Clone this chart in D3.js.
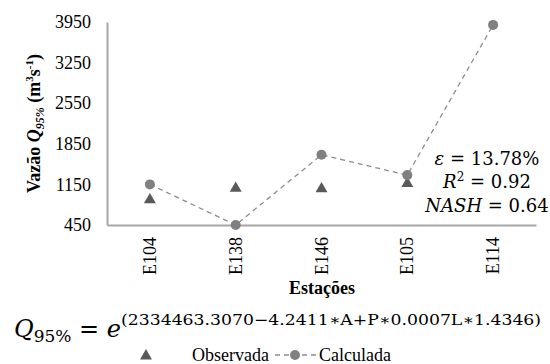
<!DOCTYPE html>
<html>
<head>
<meta charset="utf-8">
<script src="https://cdn.jsdelivr.net/npm/d3@7"></script>
<style>
  body { margin: 0; background: #fff; }
  svg { display: block; }
</style>
</head>
<body>
<svg id="viz"></svg>
<script>
// stations on the x axis
const stations = ["E104", "E138", "E146", "E105", "E114"];
// observed and calculated Q95% (m3/s)
const observada = [900, 1100, 1090, 1180, null];
const calculada = [1150, 450, 1660, 1310, 3900];
const yTicks = [450, 1150, 1850, 2550, 3250, 3950];

const W = 550, H = 364;
const plotL = 107, plotR = 536, plotT = 22, plotB = 225;
const serif = '"Liberation Serif", serif';
const math = '"DejaVu Serif", serif';

const svg = d3.select("#viz")
  .attr("width", W)
  .attr("height", H);

const x = d3.scaleBand().domain(stations).range([plotL, plotR]);
const y = d3.scaleLinear().domain([450, 3950]).range([plotB, plotT]);

// y axis
const gy = svg.append("g")
  .attr("transform", `translate(${plotL},0)`)
  .call(d3.axisLeft(y).tickValues(yTicks).tickFormat(d3.format("d")).tickSize(0).tickPadding(16));
gy.select(".domain").attr("stroke", "#a6a6a6").attr("stroke-width", 2);
gy.selectAll("text").style("font-family", serif).style("font-size", "18px").attr("fill", "#000");

// x axis
const gx = svg.append("g")
  .attr("transform", `translate(0,${plotB})`)
  .call(d3.axisBottom(x).tickSize(0).tickPadding(0));
gx.select(".domain").attr("stroke", "#a6a6a6").attr("stroke-width", 2);
gx.selectAll("text")
  .style("font-family", serif).style("font-size", "18px").attr("fill", "#000")
  .attr("text-anchor", "end")
  .attr("dy", null)
  .attr("transform", "translate(6,12) rotate(-90)");

// axis titles
svg.append("text")
  .attr("x", 322).attr("y", 294)
  .attr("text-anchor", "middle")
  .style("font-family", serif).style("font-size", "18px").style("font-weight", "bold")
  .text("Estações");

const yt = svg.append("text")
  .attr("transform", `translate(40,${(plotT + plotB) / 2}) rotate(-90)`)
  .attr("text-anchor", "middle")
  .style("font-family", serif).style("font-size", "18px").style("font-weight", "bold");
yt.append("tspan").text("Vazão ");
yt.append("tspan").style("font-style", "italic").text("Q");
yt.append("tspan").style("font-style", "italic").style("font-size", "12px").attr("dy", 4).text("95%");
yt.append("tspan").attr("dy", -4).text(" (m");
yt.append("tspan").style("font-size", "11px").attr("dy", -7).text("3");
yt.append("tspan").attr("dy", 7).text("s");
yt.append("tspan").style("font-size", "11px").attr("dy", -7).text("-1");
yt.append("tspan").attr("dy", 7).text(")");

// calculated series
const line = d3.line()
  .x((d, i) => x(stations[i]) + x.bandwidth() / 2)
  .y(d => y(d));
svg.append("path")
  .datum(calculada)
  .attr("d", line)
  .attr("fill", "none")
  .attr("stroke", "#8c8c8c")
  .attr("stroke-width", 1.3)
  .attr("stroke-dasharray", "5,4");

const tri = d3.symbol().type(d3.symbolTriangle).size(62);
svg.selectAll(".obs")
  .data(observada.map((v, i) => ({ s: stations[i], v })).filter(d => d.v != null))
  .enter().append("path")
  .attr("class", "obs")
  .attr("d", tri)
  .attr("transform", d => `translate(${x(d.s) + x.bandwidth() / 2},${y(d.v) + 1})`)
  .attr("fill", "#595959");

svg.selectAll(".calc")
  .data(calculada)
  .enter().append("circle")
  .attr("class", "calc")
  .attr("cx", (d, i) => x(stations[i]) + x.bandwidth() / 2)
  .attr("cy", d => y(d))
  .attr("r", 5)
  .attr("fill", "#808080");

// statistics
const stats = svg.append("g")
  .style("font-family", math).style("font-size", "18px").attr("text-anchor", "middle");
const s1 = stats.append("text").attr("x", 487).attr("y", 165);
s1.append("tspan").style("font-style", "italic").text("ε");
s1.append("tspan").text(" = 13.78%");
const s2 = stats.append("text").attr("x", 487).attr("y", 188);
s2.append("tspan").style("font-style", "italic").text("R");
s2.append("tspan").style("font-size", "12px").attr("dy", -7).text("2");
s2.append("tspan").attr("dy", 7).text(" = 0.92");
const s3 = stats.append("text").attr("x", 487).attr("y", 212);
s3.append("tspan").style("font-style", "italic").text("NASH");
s3.append("tspan").text(" = 0.64");

// equation
const eq = svg.append("text")
  .attr("x", 14).attr("y", 337)
  .style("font-family", math).style("font-size", "24px");
eq.append("tspan").style("font-style", "italic").text("Q");
eq.append("tspan").style("font-size", "17px").attr("dy", 5).text("95%");
eq.append("tspan").attr("dy", -5).text(" = ");
eq.append("tspan").style("font-style", "italic").text("e");
eq.append("tspan").style("font-size", "15px").attr("dy", -12)
  .attr("textLength", 420).attr("lengthAdjust", "spacingAndGlyphs")
  .text("(2334463.3070−4.2411∗A+P∗0.0007L∗1.4346)");

// legend
const leg = svg.append("g");
leg.append("path")
  .attr("d", tri)
  .attr("transform", "translate(146,356)")
  .attr("fill", "#595959");
leg.append("text")
  .attr("x", 192).attr("y", 361)
  .style("font-family", serif).style("font-size", "18px")
  .text("Observada");
leg.append("line")
  .attr("x1", 275).attr("x2", 316).attr("y1", 355).attr("y2", 355)
  .attr("stroke", "#8c8c8c").attr("stroke-width", 1.3).attr("stroke-dasharray", "5,4");
leg.append("circle")
  .attr("cx", 295).attr("cy", 355).attr("r", 5).attr("fill", "#808080");
leg.append("text")
  .attr("x", 319).attr("y", 361)
  .style("font-family", serif).style("font-size", "18px")
  .text("Calculada");
</script>
</body>
</html>
